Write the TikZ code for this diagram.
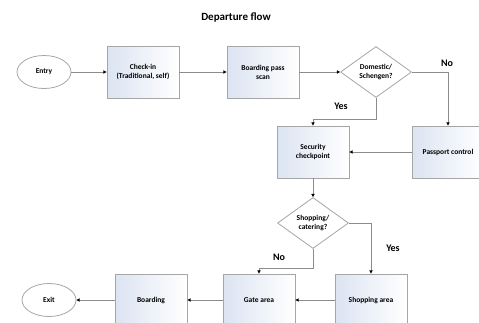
\documentclass[tikz,border=0pt]{standalone}
\usepackage{fontspec}
\setmainfont{Carlito}
\usetikzlibrary{shapes.geometric,arrows.meta,positioning}
\definecolor{linegray}{HTML}{8C8C8C}
\definecolor{boxedge}{HTML}{A6A6A6}
\definecolor{boxtint}{HTML}{DCE4F2}
\tikzset{
  conn/.style={draw=linegray, line width=0.8pt, -{Triangle[length=3.2pt,width=3.2pt,color=black]}},
  procbox/.style={rectangle, draw=boxedge, line width=0.8pt, left color=boxtint, right color=white,
    minimum width=72pt, minimum height=52pt, inner sep=1pt, align=center, font=\fontsize{7.5}{9}\selectfont\bfseries},
  termnode/.style={ellipse, draw=boxedge, line width=0.8pt, fill=white, minimum width=54pt, minimum height=33pt,
    inner sep=0pt, font=\fontsize{7.5}{9}\selectfont\bfseries},
  decnode/.style={diamond, draw=boxedge, line width=0.8pt, fill=white, minimum width=71pt, minimum height=51pt,
    inner sep=0pt, aspect=1.4, align=center, font=\fontsize{7.5}{9}\selectfont\bfseries},
  branchlbl/.style={font=\fontsize{10}{12}\selectfont\bfseries, inner sep=0pt},
  titlelbl/.style={font=\fontsize{11}{13}\selectfont\bfseries, inner sep=0pt}
}
\begin{document}
\begin{tikzpicture}[x=1pt,y=1pt]
\useasboundingbox (0,-322) rectangle (479,0);
\clip (0,-322) rectangle (479,0);
\node[titlelbl] (title) at (236,-18) {Departure flow};
\node[termnode] (entry) at (44,-72) {Entry};
\node[procbox] (checkin) at (143,-72) {Check-in\\(Traditional, self)};
\node[procbox] (bps) at (263,-72) {Boarding pass\\scan};
\node[decnode] (dom) at (376,-72) {Domestic/\\Schengen?};
\node[procbox] (pass) at (448,-152) {Passport control};
\node[procbox] (sec) at (313,-152) {Security\\checkpoint};
\node[decnode] (shopq) at (313,-223) {Shopping/\\catering?};
\node[procbox] (shop) at (371,-300) {Shopping area};
\node[procbox] (gate) at (259,-300) {Gate area};
\node[procbox] (board) at (151,-300) {Boarding};
\node[termnode] (exit) at (49,-300) {Exit};
\coordinate (j1) at (376,-119);
\coordinate (j2) at (313,-268);
\draw[conn] (entry.east) -- (checkin.west);
\draw[conn] (checkin.east) -- (bps.west);
\draw[conn] (bps.east) -- (dom.west);
\draw[conn] (dom.east) -| (pass.north);
\draw[conn] (dom.south) -- (j1) -| (sec.north);
\draw[conn] (pass.west) -- (sec.east);
\draw[conn] (sec.south) -- (shopq.north);
\draw[conn] (shopq.east) -| (shop.north);
\draw[conn] (shopq.south) -- (j2) -| (gate.north);
\draw[conn] (shop.west) -- (gate.east);
\draw[conn] (gate.west) -- (board.east);
\draw[conn] (board.west) -- (exit.east);
\node[branchlbl] (lno1) at (447,-63) {No};
\node[branchlbl] (lyes1) at (341,-106) {Yes};
\node[branchlbl] (lyes2) at (393,-248) {Yes};
\node[branchlbl] (lno2) at (279,-257) {No};
\end{tikzpicture}
\end{document}
